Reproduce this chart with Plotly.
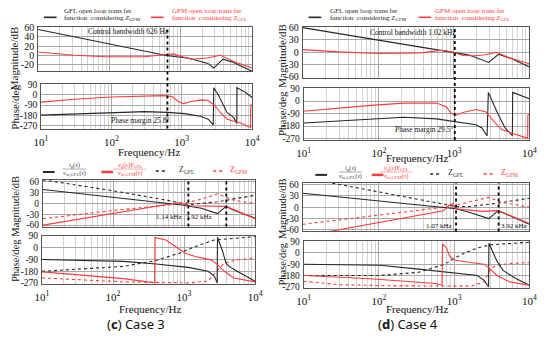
import plotly.graph_objects as go

# ---------------- data ----------------
# Panel (a): Bode of open-loop transfer functions, bandwidth 626 Hz
a_mag_gfl_f = [10, 30, 100, 300, 626, 1300, 2400, 2900, 3900, 5500, 10000]
a_mag_gfl_db = [56, 41, 26, 11, 0, -6, -17, -27, -8, -15, -34]
a_mag_gfm_f = [10, 32, 90, 310, 630, 780, 1070, 1450, 2450, 3600, 5500, 10000]
a_mag_gfm_db = [7.5, 0.5, -2.8, -2.8, 2, 3.5, -3, -8, -5, 0.5, -13, -27]
a_ph_gfl_f = [10, 30, 100, 300, 626, 1100, 1900, 2400, 2800, 2850, 3300, 3800, 4400, 5500, 6050, 6100, 8000, 10000]
a_ph_gfl_deg = [-178, -168, -156, -147, -154, -165, -190, -215, -262, 60, 0, -75, -155, -200, -250, 60, 20, -25]
a_ph_gfm_f = [10, 30, 100, 300, 550, 730, 890, 1050, 1380, 1900, 2350, 2870, 3560, 4400, 6700, 9500, 9550, 10000]
a_ph_gfm_deg = [-65, -40, -20, -10, -8, -16, -59, -78, -59, -45, -50, -87, -157, -213, -245, -285, -90, -88]
a_bandwidth = 626

# Panel (b): bandwidth 1.02 kHz
b_mag_gfl_f = [10, 100, 1020, 1600, 2900, 3900, 5700, 10000]
b_mag_gfl_db = [60, 30, 0, -7, -25, -5, -15, -36]
b_mag_gfm_f = [10, 30, 100, 360, 720, 980, 1320, 1950, 2620, 3720, 5250, 10000]
b_mag_gfm_db = [6.3, 0.8, -3, -1.6, 4.7, 0, -8, -8.5, -6, 0, -13, -28]
b_ph_gfl_f = [10, 79, 215, 585, 1020, 1940, 2350, 2740, 2850, 3170, 3880, 4760, 5700, 5950, 6000, 10000]
b_ph_gfl_deg = [-158, -128, -117, -128, -150, -170, -193, -251, 62, 4, -100, -193, -240, -248, 62, 16]
b_ph_gfm_f = [10, 29, 79, 215, 585, 790, 910, 1070, 1300, 1940, 2620, 3540, 4300, 5700, 8700, 9500, 9550, 10000]
b_ph_gfm_deg = [-73, -49, -31, -15, -15, -42, -89, -100, -82, -61, -77, -158, -205, -228, -263, -268, -100, -95]
b_bandwidth = 1020

# Panel (c): Case 3
c_mag_ig_f = [10, 100, 930, 1740, 2950, 3890, 5000, 10000]
c_mag_ig_db = [39, 18, -4, -13, -28, -8, -19, -40]
c_mag_vg_f = [10, 102, 610, 830, 1150, 2950, 3890, 10000]
c_mag_vg_db = [-60, -27, -3, 3, -6, -9, -8, -42]
c_mag_zgfl_f = [10, 102, 610, 1150, 2950, 5000, 10000]
c_mag_zgfl_db = [66, 35, 8, -3, 5, 12, 23]
c_mag_zgfm_f = [10, 102, 930, 1740, 2950, 5000, 10000]
c_mag_zgfm_db = [-42, -19, 0, 12, 27, 9, 0]
c_ph_ig_f = [10, 140, 405, 1150, 2180, 2680, 2925, 2960, 3500, 3900, 4290, 5600, 10000]
c_ph_ig_deg = [-90, -105, -125, -151, -181, -219, -270, 80, -29, -118, -143, -181, -257]
c_ph_vg_f = [10, 49, 141, 385, 390, 555, 760, 1040, 1440, 2400, 2990, 3700, 5000, 10000]
c_ph_vg_deg = [-185, -219, -237, -270, 80, 60, 9, -42, -67, -93, -131, -181, -232, -262]
c_ph_zgfl_f = [10, 141, 405, 850, 1440, 2680, 10000]
c_ph_zgfl_deg = [-181, -143, -98, -42, 9, 60, 85]
c_ph_zgfm_f = [10, 49, 141, 1150, 2180, 2990, 3700, 5600, 10000]
c_ph_zgfm_deg = [-232, -252, -262, -270, -257, -169, -118, -93, -80]
c_marks = [1140, 3920]

# Panel (d): Case 4
d_mag_ig_f = [10, 1070, 1590, 2900, 3890, 5260, 10000]
d_mag_ig_db = [37, -4, -13, -30, -9, -21, -45]
d_mag_vg_f = [10, 29, 730, 890, 960, 1070, 2400, 3890, 10000]
d_mag_vg_db = [-77, -60, -9, 7, 9, -4, -11, -9, -43]
d_mag_zgfl_f = [10, 27.5, 1070, 1600, 3890, 10000]
d_mag_zgfl_db = [78, 62, 2, 2, 11, 24]
d_mag_zgfm_f = [10, 890, 2900, 4300, 10000]
d_mag_zgfm_db = [-45, 2, 26, 13, 0]
d_ph_ig_f = [10, 103, 340, 910, 2040, 2500, 2870, 2900, 3030, 3700, 4500, 6700, 10000]
d_ph_ig_deg = [-90, -98, -129, -154, -180, -219, -270, 77, 51, -64, -141, -206, -257]
d_ph_vg_f = [10, 77, 560, 690, 700, 790, 870, 1000, 1660, 2500, 3030, 3700, 5500, 10000]
d_ph_vg_deg = [-180, -206, -244, -257, 72, 39, -26, -57, -77, -90, -129, -180, -231, -257]
d_ph_zgfl_f = [10, 103, 340, 750, 1240, 2040, 3030, 10000]
d_ph_zgfl_deg = [-180, -180, -154, -90, -13, 39, 64, 85]
d_ph_zgfm_f = [10, 28, 126, 1660, 2500, 3030, 3700, 5500, 10000]
d_ph_zgfm_deg = [-226, -252, -262, -265, -231, -129, -98, -85, -77]
d_marks = [1070, 3920]

x_ticks = [10, 100, 1000, 10000]
x_ticktext = ["10<sup>1</sup>", "10<sup>2</sup>", "10<sup>3</sup>", "10<sup>4</sup>"]
mag_ticks_a = [-20, 0, 20, 40, 60]
mag_ticktext_a = ["-20", "0", "20", "40", "60"]
mag_ticks = [-60, -30, 0, 30, 60]
mag_ticktext = ["-60", "-30", "0", "30", "60"]
ph_ticks = [-270, -180, -90, 0, 90]
ph_ticktext = ["-270", "-180", "-90", "0", "90"]

# ---------------- styling ----------------
W, H = 550, 342
FONT = "Liberation Serif"
BLACK = "#262626"
RED = "#ff3b3b"
GRID = "#a8a8a8"
MINOR = "#d2d2d2"


def px(x):
    return x / W


def py(y):
    return 1 - y / H


minor_vals = [m * 10 ** e for e in (1, 2, 3) for m in range(2, 10)]

fig = go.Figure()

# axis definitions: id -> (x domain px, y domain px, y range, y ticks, y tick text, show x labels, tick font)
axes = {
    1: ((32, 252), (22.8, 68.3), [-34, 61], mag_ticks_a, mag_ticktext_a, False, 10),
    2: ((35, 252), (81.5, 127.3), [-295, 92], ph_ticks, ph_ticktext, True, 9.5),
    3: ((304, 537), (22.5, 74.8), [-62, 62], mag_ticks, mag_ticktext, False, 10),
    4: ((305, 537), (85.7, 139.1), [-280, 92], ph_ticks, ph_ticktext, True, 9.5),
    5: ((37, 255), (180.1, 228.2), [-64, 66], mag_ticks, mag_ticktext, False, 9.5),
    6: ((36, 255), (237.6, 287.2), [-277, 93], ph_ticks, ph_ticktext, True, 9.5),
    7: ((304, 537), (183.4, 233.3), [-64, 64], mag_ticks, mag_ticktext, False, 9.5),
    8: ((305, 537), (243.3, 291.2), [-277, 93], ph_ticks, ph_ticktext, True, 9.5),
}

layout_axes = {}
for i, (xd, yd, yr, yt, ytt, showx, tfs) in axes.items():
    sx = "" if i == 1 else str(i)
    layout_axes["xaxis" + sx] = dict(
        domain=[px(xd[0]), px(xd[1])], anchor="y" + sx, type="log", range=[1, 4],
        tickvals=x_ticks, ticktext=x_ticktext, showticklabels=showx,
        tickfont=dict(family=FONT, size=11, color="#111"), ticks="",
        ticklabelstandoff=3,
        showgrid=True, gridcolor=GRID, gridwidth=1,
        minor=dict(tickvals=minor_vals, showgrid=True, gridcolor=MINOR, gridwidth=1, ticks=""),
        showline=True, mirror=True, linecolor="#555", linewidth=1, zeroline=False,
    )
    layout_axes["yaxis" + sx] = dict(
        domain=[py(yd[1]), py(yd[0])], anchor="x" + sx, range=yr,
        tickmode="array", tickvals=yt, ticktext=ytt,
        tickfont=dict(family=FONT, size=tfs, color="#111"), ticks="",
        ticklabelstandoff=1,
        showgrid=True, gridcolor=GRID, gridwidth=1, zeroline=False,
        showline=True, mirror=True, linecolor="#555", linewidth=1,
    )


def line(f, v, ax, color, dash="solid", width=1.1):
    sx = "" if ax == 1 else str(ax)
    fig.add_trace(go.Scatter(x=f, y=v, mode="lines", xaxis="x" + sx, yaxis="y" + sx,
                             line=dict(color=color, width=width, dash=dash),
                             showlegend=False, hoverinfo="skip"))


# (a)
line(a_mag_gfl_f, a_mag_gfl_db, 1, BLACK)
line(a_mag_gfm_f, a_mag_gfm_db, 1, RED)
line(a_ph_gfl_f, a_ph_gfl_deg, 2, BLACK)
line(a_ph_gfm_f, a_ph_gfm_deg, 2, RED)
# (b)
line(b_mag_gfl_f, b_mag_gfl_db, 3, BLACK)
line(b_mag_gfm_f, b_mag_gfm_db, 3, RED)
line(b_ph_gfl_f, b_ph_gfl_deg, 4, BLACK)
line(b_ph_gfm_f, b_ph_gfm_deg, 4, RED)
# (c)
line(c_mag_zgfl_f, c_mag_zgfl_db, 5, BLACK, "dot")
line(c_mag_zgfm_f, c_mag_zgfm_db, 5, RED, "dot")
line(c_mag_ig_f, c_mag_ig_db, 5, BLACK)
line(c_mag_vg_f, c_mag_vg_db, 5, RED)
line(c_ph_zgfl_f, c_ph_zgfl_deg, 6, BLACK, "dot")
line(c_ph_zgfm_f, c_ph_zgfm_deg, 6, RED, "dot")
line(c_ph_ig_f, c_ph_ig_deg, 6, BLACK)
line(c_ph_vg_f, c_ph_vg_deg, 6, RED)
# (d)
line(d_mag_zgfl_f, d_mag_zgfl_db, 7, BLACK, "dot")
line(d_mag_zgfm_f, d_mag_zgfm_db, 7, RED, "dot")
line(d_mag_ig_f, d_mag_ig_db, 7, BLACK)
line(d_mag_vg_f, d_mag_vg_db, 7, RED)
line(d_ph_zgfl_f, d_ph_zgfl_deg, 8, BLACK, "dot")
line(d_ph_zgfm_f, d_ph_zgfm_deg, 8, RED, "dot")
line(d_ph_ig_f, d_ph_ig_deg, 8, BLACK)
line(d_ph_vg_f, d_ph_vg_deg, 8, RED)

shapes = []
# bandwidth markers spanning magnitude and phase plots
shapes.append(dict(type="line", xref="x2", yref="paper", x0=a_bandwidth, x1=a_bandwidth,
                   y0=py(127.3), y1=py(24), line=dict(color="#000", width=1.8, dash="dot")))
shapes.append(dict(type="line", xref="x4", yref="paper", x0=b_bandwidth, x1=b_bandwidth,
                   y0=py(139.1), y1=py(23), line=dict(color="#000", width=1.8, dash="dot")))
for m in c_marks:
    shapes.append(dict(type="line", xref="x5", yref="y5 domain", x0=m, x1=m, y0=0, y1=1,
                       line=dict(color="#000", width=1.8, dash="dot")))
for m in d_marks:
    shapes.append(dict(type="line", xref="x7", yref="y7 domain", x0=m, x1=m, y0=0, y1=1,
                       line=dict(color="#000", width=1.8, dash="dot")))


def seg(x0, x1, y, color, dash="solid", width=1.6):
    shapes.append(dict(type="line", xref="paper", yref="paper", x0=px(x0), x1=px(x1),
                       y0=py(y), y1=py(y), line=dict(color=color, width=width, dash=dash)))


ann = []


def T(x, y, text, size=8, color="#111", xanchor="center", angle=0, family=FONT):
    ann.append(dict(x=px(x), y=py(y), xref="paper", yref="paper", text=text, showarrow=False,
                    font=dict(size=size, color=color, family=family), xanchor=xanchor,
                    yanchor="middle", textangle=angle))


# legends (a), (b)
for (bx, tx, rx, rtx) in [(38, 57, 148, 168), (310, 330, 423, 438)]:
    seg(bx, bx + 13, 12.7, BLACK)
    T(tx, 5.8, "GFL open loop trans fer", 7, BLACK, "left")
    T(tx, 13, "function  considering Z<sub>GFM</sub>", 7, BLACK, "left")
    seg(rx, rx + 13, 12.7, RED)
    T(rtx, 5.8, "GFM open loop trans fer", 7, RED, "left")
    T(rtx, 13, "function  considering Z<sub>GFL</sub>", 7, RED, "left")

# legends (c), (d)
for (yl, bx, fbx, rx, frx, dx, zx, rdx, zrx) in [
        (172, 37, 69, 97, 126, 153, 185, 212, 238),
        (175, 317, 353, 375, 400, 435, 462, 490, 517)]:
    seg(bx, bx + 12, yl, BLACK, width=2)
    T(fbx, yl - 7, "<i>i</i><sub>g</sub>(<i>s</i>)", 6.5, "#444")
    seg(fbx - 12, fbx + 12, yl - 3, "#999", width=0.8)
    T(fbx, yl + 2, "<i>v</i><sub>m,GFL</sub>(<i>s</i>)", 6.5, "#444")
    seg(rx, rx + 12, yl, RED, width=2.5)
    T(frx, yl - 7, "<i>v</i><sub>g</sub>(<i>s</i>)<i>Y</i><sub>GFL</sub>", 6.5, RED)
    seg(frx - 17, frx + 17, yl - 3, "#f99", width=0.8)
    T(frx, yl + 2, "<i>v</i><sub>m,GFM</sub>(<i>s</i>)", 6.5, RED)
    seg(dx, dx + 10, yl - 1, BLACK, "dot", 1.5)
    T(zx, yl - 2, "Z<sub>GFL</sub>", 8, "#333")
    seg(rdx, rdx + 10, yl - 1, RED, "dot", 1.5)
    T(zrx, yl - 2, "Z<sub>GFM</sub>", 8, RED)

# in-plot notes
T(125, 27, "Control bandwidth 626 Hz", 7.5)
T(137, 119, "Phase margin 25.8°", 7.5)
T(417, 28, "Control bandwidth 1.02 kHz", 7.5)
T(429, 128, "Phase margin 29.5°", 7.5)
T(182, 218, "1.14 kHz", 7, xanchor="right")
T(213, 218, "3.92 kHz", 7, xanchor="right")
T(460, 228, "1.07 kHz", 7, xanchor="right")
T(506, 228, "3.92 kHz", 7, xanchor="left")

# axis titles
T(8, 55, "Magnitude/dB", 11, angle=-90)
T(8, 105, "Phase/deg", 11, angle=-90)
T(283, 52, "Magnitude/dB", 11, angle=-90)
T(282, 112, "Phase/deg", 11, angle=-90)
T(9, 207, "Magnitude/dB", 10.5, angle=-90)
T(9, 263, "Phase/deg", 10.5, angle=-90)
T(284, 210, "Magnitude/dB", 10.5, angle=-90)
T(283, 267, "Phase/deg", 10.5, angle=-90)
T(146, 151.5, "Frequency/Hz", 11)
T(421, 157.5, "Frequency/Hz", 11)
T(147, 313, "Frequency/Hz", 11)
T(421, 313, "Frequency/Hz", 11)

# captions
T(133, 329, "(<b>c</b>) Case 3", 13, "#111", family="Noto Sans")
T(412, 329, "(<b>d</b>) Case 4", 13, "#111", family="Noto Sans")

fig.update_layout(
    width=W, height=H, autosize=False,
    margin=dict(l=0, r=0, t=0, b=0),
    paper_bgcolor="white", plot_bgcolor="white",
    showlegend=False, shapes=shapes, annotations=ann,
    **layout_axes,
)

fig.write_html("out.html", config={"displayModeBar": False},
               post_script="document.body.style.margin='0';")
